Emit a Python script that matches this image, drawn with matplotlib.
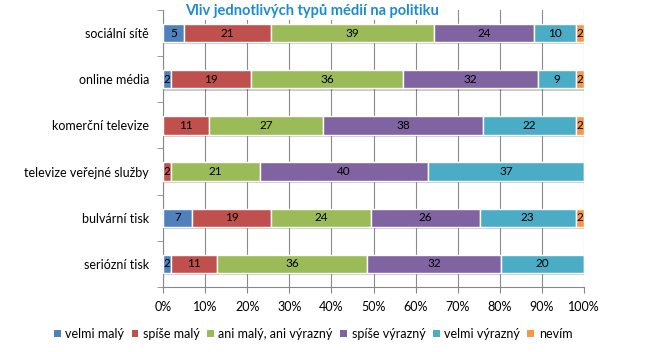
import matplotlib
matplotlib.use("Agg")
import matplotlib.pyplot as plt
import matplotlib.patheffects as pe
import numpy as np

categories = ["sociální sítě", "online média", "komerční televize",
              "televize veřejné služby", "bulvární tisk", "seriózní tisk"]
series_names = ["velmi malý", "spíše malý", "ani malý, ani výrazný",
                "spíše výrazný", "velmi výrazný", "nevím"]
velmi_maly = [5, 2, 0, 0, 7, 2]
spise_maly = [21, 19, 11, 2, 19, 11]
ani_ani = [39, 36, 27, 21, 24, 36]
spise_vyrazny = [24, 32, 38, 40, 26, 32]
velmi_vyrazny = [10, 9, 22, 37, 23, 20]
nevim = [2, 2, 2, 0, 2, 0]
colors = ["#4F81BD", "#C0504D", "#9BBB59", "#8064A2", "#4BACC6", "#F79646"]

data = np.array([velmi_maly, spise_maly, ani_ani, spise_vyrazny, velmi_vyrazny, nevim], dtype=float)
totals = data.sum(axis=0)
pct = data / totals * 100

plt.rcParams['font.family'] = ['Lato', 'DejaVu Sans']
fig = plt.figure(figsize=(6.6, 3.52), dpi=100)
ax = fig.add_axes([163/660, 1-287/352, (584-163)/660, (287-10)/352])

y = np.arange(len(categories))
left = np.zeros(len(categories))
for i, name in enumerate(series_names):
    bars = ax.barh(y, pct[i], left=left, height=0.4, color=colors[i],
                   edgecolor="white", linewidth=1.0, label=name, zorder=3)
    for b in bars:
        b.set_path_effects([pe.SimplePatchShadow(offset=(1, -1.5), alpha=0.25), pe.Normal()])
    for j in range(len(categories)):
        if data[i, j] > 0:
            ax.text(left[j] + pct[i, j] / 2, y[j], f"{int(data[i, j])}",
                    ha="center", va="center", fontsize=8.5, color="black", zorder=4)
    left += pct[i]

ax.set_xlim(0, 100)
ax.set_ylim(len(categories) - 0.5, -0.5)
ax.set_yticks(y)
ax.set_yticklabels(categories, fontsize=9)
ax.set_yticks(np.arange(-0.5, len(categories)), minor=True)
ax.tick_params(axis="y", which="major", length=0, pad=10)
ax.tick_params(axis="y", which="minor", length=4, color="#888888", direction="out")
ax.set_xticks(np.arange(0, 101, 10))
ax.set_xticklabels([f"{v}%" for v in range(0, 101, 10)], fontsize=9)
ax.tick_params(axis="x", length=4, color="#888888", pad=6)
ax.grid(axis="x", color="#8a8a8a", linewidth=0.8, zorder=0)
ax.set_axisbelow(True)
for s in ["top", "right"]:
    ax.spines[s].set_visible(False)
ax.spines["left"].set_color("#888888")
ax.spines["bottom"].set_color("#888888")

fig.text(312/660, 1-11/352, "Vliv jednotlivých typů médií na politiku", ha="center", va="center",
         fontsize=10.5, fontweight="bold", color="#1C8CD0",
         bbox=dict(facecolor="white", edgecolor="none", pad=1.5), zorder=10)

handles, labels = ax.get_legend_handles_labels()
leg = fig.legend(handles, labels, loc="center", bbox_to_anchor=(313/660, 1-334/352), ncol=6,
                 frameon=False, fontsize=9, handlelength=0.55, handleheight=0.55,
                 handletextpad=0.35, columnspacing=0.6, borderpad=0)
for h in leg.legend_handles:
    h.set_edgecolor("none")
    h.set_path_effects([])

fig.savefig("out.png", dpi=100)
